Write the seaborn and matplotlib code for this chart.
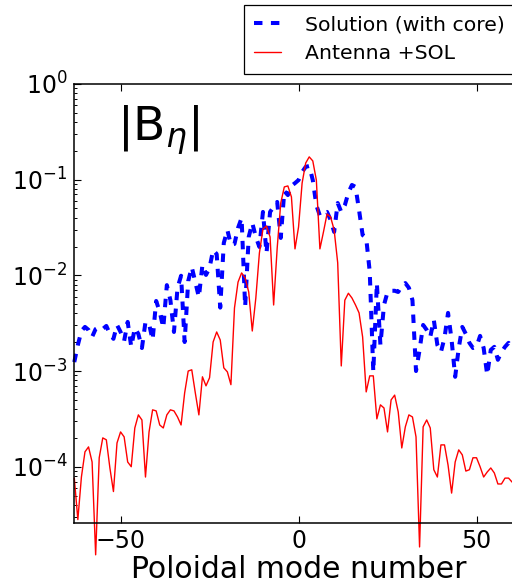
import numpy as np
import pandas as pd
import matplotlib
matplotlib.use('Agg')
import matplotlib.pyplot as plt
import seaborn as sns
from matplotlib.ticker import MultipleLocator, LogLocator, NullFormatter


# DATA (one value per poloidal mode -63..63)

modes = np.arange(-63, 64)

solution_core = [
    1.24e-3, 1.87e-3, 2.62e-3, 2.89e-3, 2.69e-3, 2.27e-3, 2.75e-3, 2.89e-3, 2.75e-3, 2.96e-3,
    2.44e-3, 2.17e-3, 3.03e-3, 2.56e-3, 2.06e-3, 3.26e-3, 1.79e-3, 2.82e-3, 2.44e-3, 1.74e-3,
    3.26e-3, 3.11e-3, 2.11e-3, 5.4e-3, 4.15e-3, 2.82e-3, 7.9e-3, 5.5e-3, 2.56e-3, 7.4e-3,
    9.9e-3, 2.01e-3, 8.7e-3, 1.22e-2, 8.5e-3, 5.9e-3, 1.29e-2, 1.01e-2, 1.20e-2, 1.84e-2,
    1.67e-2, 4.6e-3, 2.18e-2, 2.98e-2, 2.08e-2, 2.13e-2, 3.13e-2, 3.98e-2, 4.7e-3, 2.52e-2,
    3.53e-2, 2.52e-2, 1.98e-2, 4.6e-2, 1.71e-2, 4.6e-2, 5.2e-2, 5.85e-2, 2.46e-2, 7.6e-2,
    6.9e-2, 8.6e-2, 9.2e-2, 9.9e-2, 1.20e-1, 1.36e-1, 1.39e-1, 9.9e-2, 5.4e-2, 4.2e-2,
    4.5e-2, 4.6e-2, 3.8e-2, 2.84e-2, 5.7e-2, 4.6e-2, 5.4e-2, 7.3e-2, 8.8e-2, 8.4e-2,
    4.8e-2, 2.64e-2, 2.46e-2, 1.09e-2, 9.8e-4, 8.3e-3, 1.87e-3, 4.9e-3, 6.7e-3, 6.9e-3,
    6.9e-3, 6.7e-3, 7.75e-3, 8.3e-3, 7.4e-3, 5.5e-3, 1.0e-3, 1.66e-3, 3.03e-3, 2.69e-3,
    2.27e-3, 3.42e-3, 1.87e-3, 1.58e-3, 2.22e-3, 4.05e-3, 2.11e-3, 8.7e-4, 1.74e-3, 2.89e-3,
    2.44e-3, 1.97e-3, 1.74e-3, 1.79e-3, 2.33e-3, 1.74e-3, 9.1e-4, 1.66e-3, 1.79e-3, 1.31e-3,
    1.58e-3, 1.79e-3, 1.97e-3, 1.74e-3, 1.9e-3, 1.6e-3, 1.8e-3,
]

antenna_sol = [
    7.6e-5, 2.8e-5, 7.8e-5, 1.43e-4, 1.61e-4, 1.12e-4, 1.2e-5, 1.24e-4, 2.0e-4, 1.91e-4,
    9.7e-5, 5.5e-5, 1.77e-4, 2.31e-4, 2.05e-4, 1.12e-4, 1.0e-4, 2.54e-4, 3.48e-4, 3.08e-4,
    7.8e-5, 2.31e-4, 3.93e-4, 3.83e-4, 2.73e-4, 2.54e-4, 3.48e-4, 3.93e-4, 3.83e-4, 3.31e-4,
    2.73e-4, 5.9e-4, 1.0e-3, 1.03e-3, 5.9e-4, 3.48e-4, 8.7e-4, 7.0e-4, 8.5e-4, 2.01e-3,
    2.56e-3, 2.11e-3, 1.08e-3, 9.8e-4, 7.2e-4, 4.56e-3, 8.5e-3, 1.06e-2, 9.4e-3, 6.7e-3,
    2.62e-3, 5.8e-3, 1.71e-2, 3.05e-2, 3.28e-2, 2.52e-2, 4.9e-3, 1.93e-2, 5.7e-2, 8.4e-2,
    8.6e-2, 6.6e-2, 1.89e-2, 3.2e-2, 9.2e-2, 1.49e-1, 1.73e-1, 1.57e-1, 9.9e-2, 1.89e-2,
    2.84e-2, 4.38e-2, 4.08e-2, 2.98e-2, 1.35e-2, 1.13e-3, 5.5e-3, 6.5e-3, 5.8e-3, 4.9e-3,
    4.05e-3, 2.27e-3, 6.05e-4, 8.9e-4, 8.9e-4, 3.16e-4, 4.43e-4, 4.11e-4, 2.31e-4, 4.99e-4,
    5.6e-4, 3.74e-4, 1.57e-4, 2.61e-4, 3.48e-4, 3.31e-4, 2.05e-4, 1.45e-5, 2.61e-4, 3.08e-4,
    2.54e-4, 9.3e-5, 7.8e-5, 1.69e-4, 1.69e-4, 1.04e-4, 5.3e-5, 1.12e-4, 1.50e-4, 1.33e-4,
    9.0e-5, 9.3e-5, 1.24e-4, 1.24e-4, 1.0e-4, 7.8e-5, 8.8e-5, 9.7e-5, 8.6e-5, 6.6e-5,
    6.6e-5, 7.6e-5, 7.6e-5, 6.9e-5, 6.8e-5, 7.0e-5, 6.5e-5,
]

series_labels = ['Solution (with core)', 'Antenna +SOL']

data = pd.DataFrame({
    'mode': modes,
    'solution': solution_core,
    'antenna': antenna_sol,
})


# STYLE

sns.set_style('ticks')
plt.rcParams.update({
    'font.family': ['DejaVu Sans'],
    'text.color': 'black',
    'axes.labelcolor': 'black',
    'xtick.color': 'black',
    'ytick.color': 'black',
    'xtick.direction': 'in',
    'ytick.direction': 'in',
    'xtick.top': True,
    'ytick.right': True,
    'axes.edgecolor': 'black',
    'axes.linewidth': 1.1,
})

fig = plt.figure(figsize=(5.12, 5.84), dpi=100)
ax = fig.add_axes([0.1451, 0.105, 0.876, 0.7512])

# PLOT

sns.lineplot(data=data, x='mode', y='solution', ax=ax, color='blue', lw=2.9,
             linestyle=(0, (2.1, 2.1)), label=series_labels[0], clip_on=False)
sns.lineplot(data=data, x='mode', y='antenna', ax=ax, color='red', lw=1.0,
             label=series_labels[1], clip_on=False)

ax.set_yscale('log')
ax.set_xlim(-63, 63)
ax.set_ylim(2.6e-5, 1)
ax.xaxis.set_major_locator(MultipleLocator(50))
ax.yaxis.set_major_locator(LogLocator(base=10))
ax.yaxis.set_minor_locator(LogLocator(base=10, subs=np.arange(2, 10)))
ax.yaxis.set_minor_formatter(NullFormatter())

ax.tick_params(which='major', length=5, width=0.8, labelsize=17)
ax.tick_params(which='minor', length=2.5, width=0.7)
ax.tick_params(axis='x', pad=4.5)
ax.tick_params(axis='y', pad=5)

ax.set_xlabel('Poloidal mode number', fontsize=21.5, labelpad=1.5)
ax.set_ylabel('')

ax.text(0.095, 0.955, r'$|\mathrm{B}_{\eta}|$', transform=ax.transAxes,
        fontsize=34, ha='left', va='top')

ax.legend(loc='upper left', bbox_to_anchor=(244 / 512, 1 - 5 / 584),
          bbox_transform=fig.transFigure, borderaxespad=0, fontsize=14.7,
          frameon=True, fancybox=False, framealpha=1, edgecolor='black',
          handlelength=1.3, handletextpad=1.2, labelspacing=0.5, borderpad=0.5)
ax.get_legend().get_frame().set_linewidth(0.9)

fig.savefig('out.png', dpi=100)
